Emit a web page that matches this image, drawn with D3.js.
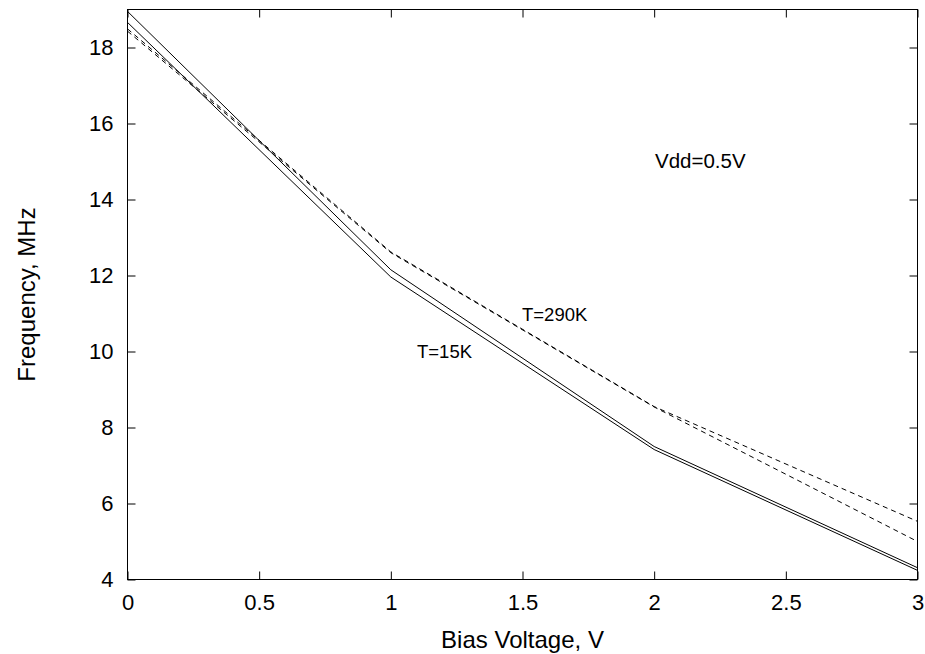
<!DOCTYPE html>
<html>
<head>
<meta charset="utf-8">
<script src="https://cdn.jsdelivr.net/npm/d3@7"></script>
<style>
body { margin:0; background:#fff; }
</style>
</head>
<body>
<svg width="925" height="654"></svg>
<script>
var bias = [0, 1, 2, 3];
var cold1 = [18.95, 12.15, 7.50, 4.31];
var cold2 = [18.66, 11.96, 7.42, 4.24];
var warm1 = [18.49, 12.62, 8.55, 5.53];
var warm2 = [18.43, 12.60, 8.54, 5.00];
var xTicks = [0, 0.5, 1, 1.5, 2, 2.5, 3];
var yTicks = [4, 6, 8, 10, 12, 14, 16, 18];

var svg = d3.select("svg"),
	width = +svg.attr("width"),
	height = +svg.attr("height");

var font = "'Liberation Sans', Arial, sans-serif";

var x = d3.scaleLinear().domain([0, 3]).range([127.5, 917.5]);
var y = d3.scaleLinear().domain([4, 19]).range([579.5, 9.5]);

var g = svg.append("g").attr("class", "canvas");

// ticks on all four sides, pointing in
function axes(){
	var tl = 8;
	g.append("g")
		.attr("transform", "translate(0," + y(4) + ")")
		.call(d3.axisBottom(x).tickValues(xTicks).tickSize(-tl).tickSizeOuter(0).tickFormat(d3.format("")))
		.call(function(a){ a.select(".domain").remove(); a.selectAll("text").attr("dy", "1.25em"); });
	g.append("g")
		.attr("transform", "translate(0," + y(19) + ")")
		.call(d3.axisTop(x).tickValues(xTicks).tickSize(-tl).tickSizeOuter(0).tickFormat(""))
		.call(function(a){ a.select(".domain").remove(); });
	g.append("g")
		.attr("transform", "translate(" + x(0) + ",0)")
		.call(d3.axisLeft(y).tickValues(yTicks).tickSize(-tl).tickSizeOuter(0).tickPadding(14))
		.call(function(a){ a.select(".domain").remove(); });
	g.append("g")
		.attr("transform", "translate(" + x(3) + ",0)")
		.call(d3.axisRight(y).tickValues(yTicks).tickSize(-tl).tickSizeOuter(0).tickFormat(""))
		.call(function(a){ a.select(".domain").remove(); });

	g.selectAll(".tick line").attr("stroke", "#000");
	g.selectAll(".tick text")
		.attr("font-family", font)
		.attr("font-size", "22")
		.attr("fill", "#000");

	g.append("rect")
		.attr("x", x(0)).attr("y", y(19))
		.attr("width", x(3) - x(0)).attr("height", y(4) - y(19))
		.attr("fill", "none")
		.attr("stroke", "#000")
		.attr("stroke-width", 1);
}

function curves(){
	var line = d3.line()
		.x(function(d, i){ return x(bias[i]); })
		.y(function(d){ return y(d); });
	var sets = [
		{v: cold1, dash: null},
		{v: cold2, dash: null},
		{v: warm1, dash: "5,4"},
		{v: warm2, dash: "5,4"}
	];
	g.selectAll(".curve")
		.data(sets).enter().append("path")
		.attr("class", "curve")
		.attr("d", function(d){ return line(d.v); })
		.attr("fill", "none")
		.attr("stroke", "#000")
		.attr("stroke-width", 1)
		.attr("stroke-dasharray", function(d){ return d.dash; });
}

function labels(){
	g.append("text")
		.attr("x", (x(0) + x(3)) / 2)
		.attr("y", 648)
		.attr("text-anchor", "middle")
		.attr("font-family", font)
		.attr("font-size", "24")
		.text("Bias Voltage, V");

	g.append("text")
		.attr("transform", "translate(35," + ((y(4) + y(19)) / 2) + ") rotate(-90)")
		.attr("text-anchor", "middle")
		.attr("font-family", font)
		.attr("font-size", "24")
		.text("Frequency, MHz");

	g.append("text")
		.attr("x", 655).attr("y", 168)
		.attr("font-family", font)
		.attr("font-size", "20.5")
		.text("Vdd=0.5V");

	g.append("text")
		.attr("x", 522).attr("y", 321)
		.attr("font-family", font)
		.attr("font-size", "18.5")
		.text("T=290K");

	g.append("text")
		.attr("x", 417).attr("y", 358)
		.attr("font-family", font)
		.attr("font-size", "18.5")
		.text("T=15K");
}

axes();
curves();
labels();
</script>
</body>
</html>
